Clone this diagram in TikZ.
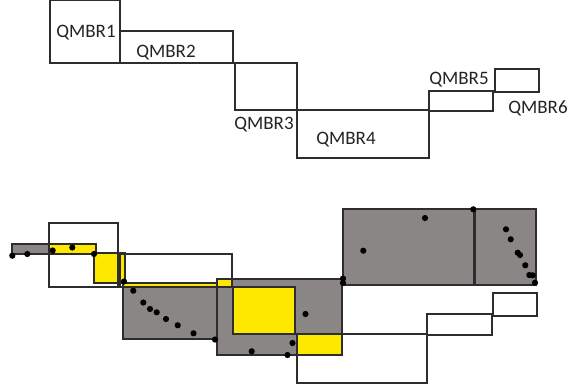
\documentclass[tikz,border=0pt]{standalone}
\usepackage{fontspec}
\setmainfont{Carlito}
\definecolor{boxgray}{RGB}{138,134,133}
\definecolor{boxyellow}{RGB}{255,232,0}
\definecolor{linec}{RGB}{45,45,45}
\definecolor{textc}{RGB}{35,35,35}
\begin{document}
\begin{tikzpicture}[x=1pt,y=-1pt,
  outline/.style={draw=linec,line width=1.5pt},
  grayfill/.style={fill=boxgray,draw=linec,line width=1.5pt},
  yelfill/.style={fill=boxyellow,draw=linec,line width=1.5pt},
  yelplain/.style={fill=boxyellow},
  lbl/.style={font=\fontsize{19}{19}\selectfont,text=textc,inner sep=0pt,anchor=center},
  pt/.style={fill=black,draw=none}]
\useasboundingbox (0,0) rectangle (570,391);
% ---------- top diagram ----------
\draw[outline] (50,0) rectangle (120,63);
\draw[outline] (120,31) rectangle (233,63);
\draw[outline] (235,63) rectangle (297,110);
\draw[outline] (297,110) rectangle (429,158);
\draw[outline] (429,91) rectangle (493,111);
\draw[outline] (495,69) rectangle (539,92);
\node[lbl] (l1) at (86,33) {QMBR1};
\node[lbl] (l2) at (166,53) {QMBR2};
\node[lbl] (l3) at (264,125) {QMBR3};
\node[lbl] (l4) at (346,140) {QMBR4};
\node[lbl] (l5) at (459,80) {QMBR5};
\node[lbl] (l6) at (538,108) {QMBR6};
% ---------- bottom diagram ----------
% gray rectangles
\draw[grayfill] (12,244) rectangle (96,254);
\draw[grayfill] (123,283) rectangle (217,339);
\draw[grayfill] (217,279) rectangle (342,355);
\draw[grayfill] (343,209) rectangle (536,285);
% yellow intersections
\fill[yelplain] (49,244.8) rectangle (95.2,253.2);
\draw[linec,line width=1.5pt] (12,244) rectangle (96,254);
\draw[yelfill] (94,253) rectangle (125,283);
\fill[yelplain] (123.8,283.8) rectangle (216.2,287);
\fill[yelplain] (217.8,279.8) rectangle (232,287);
\draw[yelfill] (233,287) rectangle (295,334);
\draw[yelfill] (297,334) rectangle (342,355);
% white boxes
\draw[outline] (49,223) rectangle (118,287);
\draw[outline] (120,254) rectangle (232,287);
\draw[outline] (297,334) rectangle (427,383);
\draw[outline] (427,314) rectangle (492,335);
\draw[outline] (493,293) rectangle (537,316);
\draw[linec,line width=2.8pt] (474.5,209) -- (474.5,285);
% points
\foreach \px/\py in {12.3/255.7,27.3/254,52.7/250.5,72.3/247.5,94/254,124/281.5,
  133.3/290.7,143.3/302.5,150/309,156.7/312.3,166/319,177.7/325.3,193.5/333.3,215/339.5,
  251.7/351.3,287.5/355,292.5/343,305.5/314,343/278.5,343/283,363.3/250.7,425/218,
  473.3/209.3,506/229.3,510.7/239.3,517.7/252.7,520/255,525.3/265.3,529.3/275,532.7/275.3,535/282.7}
  \fill[pt] (\px,\py) circle (3.1pt);
\end{tikzpicture}
\end{document}
